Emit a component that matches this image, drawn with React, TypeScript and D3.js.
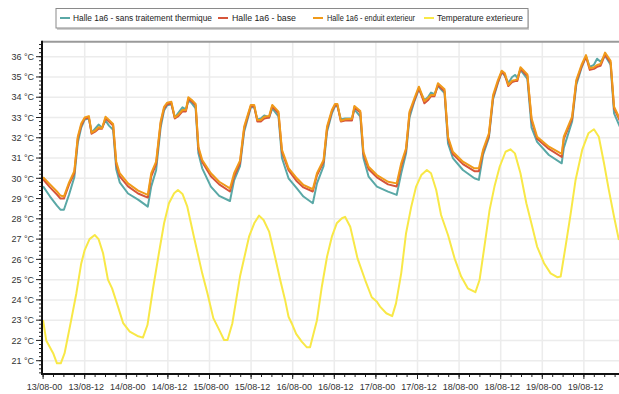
import React from "react";
import * as d3 from "d3";

const seriesNames = [
  "Halle 1a6 - sans traitement thermique",
  "Halle 1a6 - base",
  "Halle 1a6 - enduit exterieur",
  "Temperature exterieure",
];
const seriesColors = ["#5aa8a6", "#d6553a", "#f09a1a", "#f8e847"];

const xTickLabels = [
  "13/08-00", "13/08-12", "14/08-00", "14/08-12", "15/08-00", "15/08-12", "16/08-00",
  "16/08-12", "17/08-00", "17/08-12", "18/08-00", "18/08-12", "19/08-00", "19/08-12",
];
const yTicks = [21, 22, 23, 24, 25, 26, 27, 28, 29, 30, 31, 32, 33, 34, 35, 36];

// hours since 13/08 00:00
const indoorHours = [
  0, 2, 4, 5, 6, 7.5, 9, 10, 11, 12, 13.2, 14, 15, 16, 17, 18, 19, 20.2, 21.1, 22.1,
  24.5, 27.4, 30.2, 31.2, 32.6, 33.9, 34.9, 35.8, 37, 38, 38.9, 40.2, 41.2, 41.9, 42.9, 44.0,
  44.8, 45.9, 48.4, 50.8, 53.9, 55.1, 56.8, 58, 59.9, 60.9, 61.8, 62.8, 63.8, 65.2, 66.1,
  67.9, 68.9, 70.8, 73.2, 75.1, 77.8, 79, 80.9, 81.9, 83.3, 84.2, 84.9, 85.9, 87.1, 89.1,
  89.8, 91.5, 92.4, 93.9, 96.3, 99.5, 102, 103.3, 104.7, 105.7, 107.1, 108.4, 110, 111,
  111.9, 112.9, 113.9, 115.8, 116.8, 118.2, 121.1, 124.4, 125.7, 126.9, 128.6, 129.8,
  131.2, 132.3, 133.2, 134.2, 135.3, 136.2, 136.8, 137.7, 139.7, 140.9, 142.5, 145.9,
  149.6, 150.2, 152.6, 153.8, 155.3, 156.6, 157.7, 158.9, 159.8, 160.8, 162.1, 163.7,
  164.7, 166.5,
];
const sansTraitement = [
  29.6, 29.1, 28.65, 28.45, 28.45, 29.2, 30.05, 31.75, 32.5, 32.9, 32.95, 32.25, 32.45, 32.65, 32.5, 32.85, 32.6, 32.4, 30.45, 29.8,
  29.25, 28.95, 28.6, 29.6, 30.4, 32.5, 33.35, 33.6, 33.65, 33.0, 33.2, 33.5, 33.4, 33.85, 33.7, 33.45,
  31.23, 30.49, 29.59, 29.13, 28.88, 29.9, 30.6, 32.3, 33.5, 33.5, 32.9, 32.95, 33.1, 33.0, 33.45,
  33.05, 31.0, 30.0, 29.5, 29.1, 28.77, 29.75, 30.6, 32.3, 33.2, 33.55, 33.55, 32.9, 32.95, 32.95,
  33.4, 33.05, 31.0, 30.08, 29.59, 29.34, 29.18, 30.25, 31.23, 33.0, 33.8, 34.4, 33.85, 34.0,
  34.23, 34.15, 34.55, 34.2, 31.72, 31.0, 30.41, 30.0, 29.92, 31.15, 32.0, 33.9,
  34.7, 35.25, 35.05, 34.7, 35.0, 35.1, 34.95, 35.35, 34.9, 32.5, 31.8, 31.15,
  30.74, 31.5, 32.8, 34.6, 35.45, 36.0, 35.5, 35.6, 35.9, 35.75, 36.05, 35.6,
  33.2, 32.5,
];
const base = [
  29.95, 29.55, 29.2, 29.0, 29.0, 29.7, 30.25, 31.95, 32.6, 32.95, 33.0, 32.2, 32.3, 32.45, 32.45, 32.95, 32.8, 32.6, 30.7, 30.1,
  29.6, 29.25, 29.05, 30.1, 30.7, 32.7, 33.45, 33.65, 33.7, 32.95, 33.05, 33.3, 33.3, 33.9, 33.8, 33.6,
  31.45, 30.8, 30.1, 29.7, 29.35, 30.1, 30.75, 32.45, 33.55, 33.55, 32.8, 32.8, 32.95, 33.0, 33.55,
  33.2, 31.3, 30.4, 29.85, 29.55, 29.35, 30.15, 30.8, 32.45, 33.3, 33.6, 33.6, 32.8, 32.85, 32.85,
  33.5, 33.25, 31.2, 30.45, 30.05, 29.7, 29.6, 30.6, 31.4, 33.2, 33.85, 34.45, 33.7, 33.85,
  34.05, 34.05, 34.6, 34.3, 31.95, 31.2, 30.7, 30.35, 30.35, 31.3, 32.1, 34.0,
  34.75, 35.25, 35.1, 34.55, 34.75, 34.8, 34.8, 35.4, 35.05, 32.85, 31.95, 31.45,
  31.05, 31.95, 32.95, 34.75, 35.5, 36.0, 35.35, 35.4, 35.5, 35.55, 36.1, 35.7,
  33.45, 32.8,
];
const enduitExterieur = [
  30.05, 29.7, 29.35, 29.15, 29.1, 29.8, 30.35, 32.05, 32.7, 33.0, 33.07, 32.25, 32.35, 32.52, 32.47, 33.04, 32.88, 32.68, 30.82, 30.25,
  29.75, 29.39, 29.18, 30.25, 30.82, 32.8, 33.53, 33.73, 33.78, 33.0, 33.12, 33.37, 33.37, 34.0, 33.86, 33.67,
  31.56, 30.9, 30.25, 29.83, 29.5, 30.25, 30.87, 32.55, 33.62, 33.62, 32.88, 32.88, 33.04, 33.07, 33.62,
  33.29, 31.4, 30.5, 30.0, 29.67, 29.46, 30.25, 30.9, 32.55, 33.37, 33.67, 33.67, 32.84, 32.91, 32.94,
  33.57, 33.32, 31.31, 30.57, 30.16, 29.83, 29.75, 30.74, 31.48, 33.29, 33.95, 34.52, 33.81, 33.95,
  34.11, 34.11, 34.69, 34.39, 32.05, 31.31, 30.82, 30.49, 30.49, 31.4, 32.22, 34.11,
  34.85, 35.31, 35.18, 34.6, 34.82, 34.85, 34.88, 35.48, 35.13, 32.96, 32.05, 31.56,
  31.2, 32.05, 33.04, 34.85, 35.59, 36.08, 35.43, 35.48, 35.59, 35.64, 36.2, 35.8,
  33.53, 32.88,
];

const outdoorHours = [
  0, 0.9, 2.9, 4.0, 5.1, 6.2, 8.1, 9.6, 11, 12, 13.4, 14.9, 16, 17.3, 18.7, 19.9, 21.6, 23.1,
  25, 27.2, 28.8, 30.1, 31.7, 33.4, 34.9, 36.3, 37.8, 38.9, 40.2, 41.6, 43.5, 45.9, 47.4,
  49.1, 50.8, 52.2, 53.2, 54.6, 56.8, 59.4, 60.9, 62.3, 63.6, 65.2, 66.9, 68.4, 69.8, 70.8,
  71.7, 73, 74.6, 76.1, 77, 79, 80.4, 81.9, 83.3, 84.7, 86.2, 87.1, 88.6, 90.7, 92.9, 94.8,
  96.3, 97.2, 99, 100.7, 101.8, 103.3, 104.7, 106.2, 107.6, 109.1, 110.7, 111.9, 113.4,
  114.8, 116.8, 118.7, 120.6, 122.5, 124.7, 125.9, 127.3, 128.8, 130.2, 131.7, 133.4,
  134.8, 136.1, 137.7, 139.4, 141.1, 142.5, 144.5, 146.4, 148.3, 149.3, 150.7, 152.2,
  153.6, 155.5, 157.3, 158.9, 160.3, 161.8, 163.2, 164.7, 166.1,
];
const temperatureExterieure = [
  23.0, 22.0, 21.37, 20.87, 20.87, 21.37, 23.0, 24.33, 25.8, 26.46, 27.0, 27.2, 27.0, 26.3, 25.0, 24.57, 23.67, 22.85,
  22.43, 22.22, 22.14, 22.76, 24.55, 26.3, 27.78, 28.77, 29.26, 29.42, 29.23, 28.6, 27.12, 25.31, 24.33,
  23.1, 22.52, 22.02, 22.02, 22.85, 25.15, 27.12, 27.78, 28.16, 27.94, 27.37, 26.13, 24.98, 24.0, 23.17,
  22.85, 22.32, 21.94, 21.66, 21.66, 23.0, 24.65, 26.13, 27.12, 27.78, 28.03, 28.1, 27.61, 26.05, 24.98, 24.13,
  23.91, 23.67, 23.34, 23.2, 23.83, 25.31, 27.29, 28.6, 29.59, 30.16, 30.41, 30.25, 29.42,
  28.19, 27.2, 26.05, 25.15, 24.57, 24.38, 24.98, 26.63, 28.44, 29.59, 30.57, 31.31,
  31.43, 31.23, 30.25, 28.77, 27.61, 26.63, 25.81, 25.31, 25.12, 25.15, 26.63, 28.27,
  29.92, 31.4, 32.22, 32.42, 32.05, 30.74, 29.42, 28.1, 26.95,
];

const W = 619;
const H = 394;
const plotLeft = 42;
const plotTop = 41.7;
const plotBottom = 374;
const plotRight = W;

export default function App() {
  const x = d3.scaleLinear().domain([0, 12]).range([43.1, 84.7]);
  const y = d3.scaleLinear().domain([21, 36]).range([360.7, 56.7]);
  const maxHour = x.invert(plotRight);

  const indoorSeries = [sansTraitement, base, enduitExterieur];
  const line = d3
    .line<[number, number]>()
    .x((d) => x(d[0]))
    .y((d) => y(d[1]));

  const yMin = y.invert(plotBottom);
  const yMax = y.invert(plotTop);
  const yMinor = d3.range(Math.ceil(yMin * 5), Math.floor(yMax * 5) + 1).map((v) => v / 5);
  const xMinor = d3.range(0, Math.floor(maxHour / 3) + 1).map((v) => v * 3);
  const xMajor = xTickLabels.map((_, i) => i * 12);

  const font = "'Liberation Sans', Arial, sans-serif";

  // legend layout
  const legendItems = [
    { sx: 60, tx: 73, w: 139 },
    { sx: 218, tx: 232, w: 64 },
    { sx: 313, tx: 327, w: 88 },
    { sx: 424, tx: 437, w: 86 },
  ];

  return (
    <svg
      width={W}
      height={H}
      style={{ position: "absolute", left: 0, top: 0, background: "#fff" }}
      fontFamily={font}
    >
      <defs>
        <clipPath id="plotclip">
          <rect x={plotLeft} y={plotTop} width={plotRight - plotLeft} height={plotBottom - plotTop} />
        </clipPath>
      </defs>
      <rect x={0} y={0} width={W} height={H} fill="#fff" />

      {/* grid */}
      <g stroke="#ececec" strokeWidth={1.5}>
        {yTicks.map((t) => (
          <line key={"gy" + t} x1={plotLeft} x2={plotRight} y1={y(t)} y2={y(t)} />
        ))}
        {xMajor.slice(1).map((h) => (
          <line key={"gx" + h} x1={x(h)} x2={x(h)} y1={plotTop} y2={plotBottom} />
        ))}
      </g>

      {/* series */}
      <g clipPath="url(#plotclip)" fill="none" strokeWidth={2} strokeLinejoin="round">
        {indoorSeries.map((vals, si) => (
          <path
            key={"s" + si}
            d={line(indoorHours.map((h, i) => [h, vals[i]] as [number, number])) || ""}
            stroke={seriesColors[si]}
          />
        ))}
        <path
          d={line(outdoorHours.map((h, i) => [h, temperatureExterieure[i]] as [number, number])) || ""}
          stroke={seriesColors[3]}
        />
      </g>

      {/* top border */}
      <line x1={plotLeft} x2={plotRight} y1={plotTop} y2={plotTop} stroke="#9a9a9a" strokeWidth={2} />

      {/* y axis */}
      <g stroke="#222" strokeWidth={1}>
        {yMinor.map((v) => (
          <line key={"ym" + v} x1={39} x2={plotLeft} y1={y(v)} y2={y(v)} />
        ))}
        {yTicks.map((t) => (
          <line key={"yM" + t} x1={36} x2={plotLeft} y1={y(t)} y2={y(t)} />
        ))}
      </g>
      <line x1={plotLeft} x2={plotLeft} y1={plotTop - 1} y2={plotBottom + 1} stroke="#111" strokeWidth={2} />
      <g fontSize={9} fill="#333" textAnchor="end">
        {yTicks.map((t) => (
          <text key={"yl" + t} x={34} y={y(t) + 3.2}>
            {t} °C
          </text>
        ))}
      </g>

      {/* x axis */}
      <g stroke="#222" strokeWidth={1}>
        {xMinor.map((h) => (
          <line key={"xm" + h} x1={x(h)} x2={x(h)} y1={plotBottom} y2={plotBottom + 3} />
        ))}
        {xMajor.map((h) => (
          <line key={"xM" + h} x1={x(h)} x2={x(h)} y1={plotBottom} y2={plotBottom + 5} />
        ))}
      </g>
      <line x1={plotLeft - 1} x2={plotRight} y1={plotBottom} y2={plotBottom} stroke="#111" strokeWidth={2} />
      <g fontSize={9} fill="#333" textAnchor="middle">
        {xTickLabels.map((lab, i) => (
          <text key={"xl" + i} x={x(xMajor[i]) + 1.5} y={390}>
            {lab}
          </text>
        ))}
      </g>

      {/* legend */}
      <rect x={57} y={10} width={472} height={20} fill="#777" opacity={0.35} />
      <rect x={56} y={8.5} width={472} height={19.5} fill="#fff" stroke="#8a8a8a" strokeWidth={1} />
      <g fontSize={8.5} fill="#222">
        {seriesNames.map((name, i) => (
          <g key={"lg" + i}>
            <line
              x1={legendItems[i].sx}
              x2={legendItems[i].sx + 10}
              y1={18}
              y2={18}
              stroke={seriesColors[i]}
              strokeWidth={2}
            />
            <text
              x={legendItems[i].tx}
              y={21}
              textLength={legendItems[i].w}
              lengthAdjust="spacingAndGlyphs"
            >
              {name}
            </text>
          </g>
        ))}
      </g>
    </svg>
  );
}
